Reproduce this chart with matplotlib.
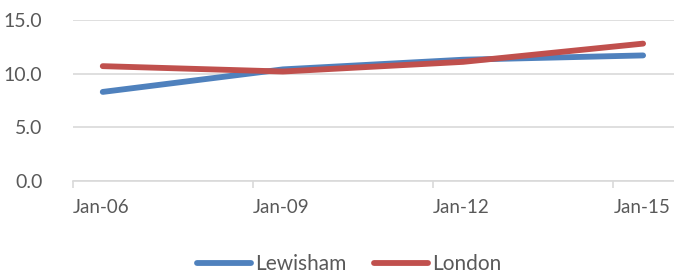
import matplotlib
matplotlib.use("Agg")
import matplotlib.pyplot as plt
import matplotlib.dates as mdates
import pandas as pd

plt.rcParams['font.family'] = ['Lato', 'DejaVu Sans']

# ── 데이터 ──────────────────────────────────────────
dates    = pd.to_datetime(["2006-07-01", "2009-07-01", "2012-07-01", "2015-07-01"])
lewisham = [8.3, 10.4, 11.3, 11.7]
london   = [10.7, 10.2, 11.1, 12.8]
xticks   = pd.to_datetime(["2006-01-01", "2009-01-01", "2012-01-01", "2015-01-01"])

series = [("Lewisham", lewisham, "#4F81BD"),
          ("London",   london,   "#C0504D")]

TEXT = "#595959"
GRID = "#D9D9D9"

fig = plt.figure(figsize=(6.74, 2.75), dpi=100)
ax = fig.add_axes([73/674, 94/275, 601/674, 161/275])

for name, vals, col in series:
    ax.plot(dates, vals, color=col, linewidth=4.2, solid_capstyle="round",
            label=name)

ax.set_ylim(0, 15)
ax.set_yticks([0, 5, 10, 15])
ax.set_yticklabels([f"{v:.1f}" for v in [0, 5, 10, 15]])
ax.set_xlim(pd.Timestamp("2006-01-01"), pd.Timestamp("2016-01-05"))
ax.set_xticks(xticks)
ax.xaxis.set_major_formatter(mdates.DateFormatter("%b-%y"))

ax.grid(axis="y", color=GRID, linewidth=1.2)
ax.set_axisbelow(True)
for s in ["top", "right", "left"]:
    ax.spines[s].set_visible(False)
ax.spines["bottom"].set_color(GRID)
ax.spines["bottom"].set_linewidth(1.2)

ax.tick_params(axis="y", length=0, pad=22, labelsize=14, labelcolor=TEXT)
ax.tick_params(axis="x", length=5, width=1.2, color=GRID, pad=8,
               labelsize=13.5, labelcolor=TEXT)
for lab in ax.get_xticklabels():
    lab.set_horizontalalignment("left")

fig.legend(loc="center", bbox_to_anchor=(349/674, 11/275), ncol=2,
           frameon=False, fontsize=15, handlelength=2.6, handletextpad=0.2,
           columnspacing=1.3, labelcolor=TEXT)

plt.savefig("out.png", dpi=100)
plt.close()
